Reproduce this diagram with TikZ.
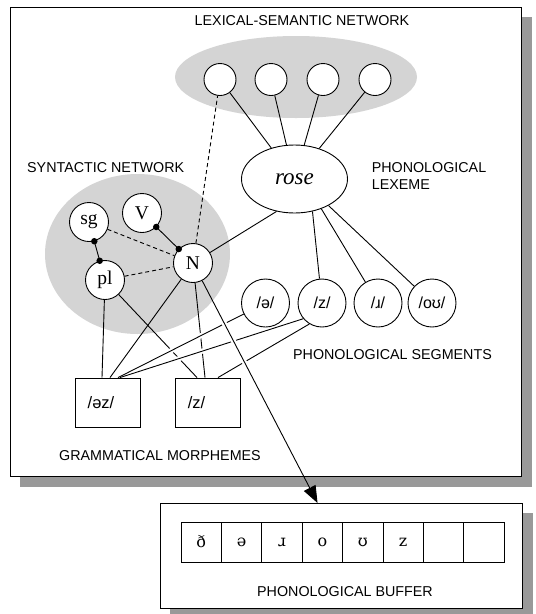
\documentclass[tikz,border=0pt]{standalone}
\usepackage{fontspec}
\setmainfont{Liberation Serif}
\setsansfont{Liberation Sans}
\newfontfamily\ipaserif{DejaVu Serif}
\usetikzlibrary{shapes.geometric,arrows.meta,calc}
\begin{document}
\begin{tikzpicture}[x=1pt,y=-1pt,
  lab/.style={font=\sffamily\fontsize{14.3}{17}\selectfont, inner sep=0pt},
  sem/.style={circle,draw,fill=white,minimum size=32pt,inner sep=0pt,line width=0.9pt},
  syn/.style={circle,draw,fill=white,minimum size=39pt,inner sep=0pt,line width=0.9pt,font=\fontsize{19.5}{21}\selectfont},
  seg/.style={circle,draw,fill=white,minimum size=48pt,inner sep=0pt,line width=0.9pt,font=\sffamily\fontsize{16}{18}\selectfont},
  morph/.style={rectangle,draw,fill=white,minimum width=65pt,minimum height=49pt,inner sep=0pt,line width=0.9pt,font=\sffamily\fontsize{16.5}{18}\selectfont},
  cell/.style={rectangle,draw,minimum width=40.4pt,minimum height=40pt,inner sep=0pt,line width=0.9pt,font=\ipaserif\fontsize{16}{18}\selectfont},
  link/.style={line width=0.9pt},
  dlink/.style={line width=0.9pt,dash pattern=on 4pt off 3pt},
  dot/.style={circle,fill=black,inner sep=0pt,minimum size=6.5pt},
  halo/.style={draw=white,line width=5pt},
  boxframe/.style={rectangle,draw,fill=white,line width=1.1pt,inner sep=0pt,anchor=north west},
  shadowfill/.style={fill=black!40},
  cloud/.style={fill=black!17}
]
\useasboundingbox (0,0) rectangle (536,614);
% frames with shadows
\fill[shadowfill] (20,17) rectangle (532,487);
\node[boxframe,minimum width=511pt,minimum height=469pt] (main) at (10,7) {};
\fill[shadowfill] (170,513) rectangle (533,614);
\node[boxframe,minimum width=362pt,minimum height=105pt] (buf) at (160,503) {};
% gray regions
\fill[cloud] (296,77) ellipse [x radius=121pt, y radius=41pt];
\fill[cloud] (137.5,254) ellipse [x radius=92.5pt, y radius=80pt];
% labels
\node[lab] (lsn) at (302,20.5) {LEXICAL-SEMANTIC NETWORK};
\node[lab,anchor=west] (snet) at (27,168) {SYNTACTIC NETWORK};
\node[lab,anchor=west,align=left] (phlex) at (371.6,176.5) {PHONOLOGICAL\\LEXEME};
\node[lab] (phseg) at (392.5,355) {PHONOLOGICAL SEGMENTS};
\node[lab] (gm) at (160,456) {GRAMMATICAL MORPHEMES};
\node[lab] (pb) at (345,592) {PHONOLOGICAL BUFFER};
% semantic nodes
\node[sem] (s1) at (220,79.5) {};
\node[sem] (s2) at (271,79.5) {};
\node[sem] (s3) at (323,79.5) {};
\node[sem] (s4) at (375,79.5) {};
\node[draw,ellipse,fill=white,minimum width=106pt,minimum height=68pt,inner sep=0pt,line width=0.9pt,font=\itshape\fontsize{23}{25}\selectfont] (rose) at (294.5,179) {rose};
% syntactic nodes
\node[syn] (sg) at (89,222) {sg};
\node[syn] (V) at (142,213) {V};
\node[syn] (N) at (193,263) {N};
\node[syn] (pl) at (105,280) {pl};
% segments
\node[seg] (sa) at (265.5,303) {/ə/};
\node[seg] (sz) at (322,303) {/z/};
\node[seg] (sr) at (378,303) {/ɹ/};
\node[seg] (so) at (432,303) {/oʊ/};
% morphemes
\node[morph] (m1) at (107.5,402.5) {/əz/\hspace*{13pt}};
\node[morph] (m2) at (207.5,402.5) {/z/\hspace*{22pt}};
% buffer cells
\node[cell] (c1) at (201.2,542) {ð};
\node[cell] (c2) at (241.6,542) {ə};
\node[cell] (c3) at (282.0,542) {ɹ};
\node[cell] (c4) at (322.4,542) {o};
\node[cell] (c5) at (362.8,542) {ʊ};
\node[cell] (c6) at (403.2,542) {z};
\node[cell] (c7) at (443.6,542) {};
\node[cell] (c8) at (484.0,542) {};
% connection points
\coordinate (m1a) at ([xshift=-5.5pt]m1.north);
\coordinate (m1b) at ([xshift=2.5pt]m1.north);
\coordinate (m1c) at ([xshift=10.5pt]m1.north);
\coordinate (m1d) at ([xshift=12.5pt]m1.north);
\coordinate (m2a) at ([xshift=-10.5pt]m2.north);
\coordinate (m2b) at ([xshift=-2.5pt]m2.north);
\coordinate (m2c) at ([xshift=10.5pt]m2.north);
\coordinate (tip) at ([xshift=-24pt]buf.north);
% semantic links
\draw[link] (s1) -- (rose);
\draw[link] (s2) -- (rose);
\draw[link] (s3) -- (rose);
\draw[link] (s4) -- (rose);
\draw[link] (rose.241) -- (N);
\draw[link] (rose.299) -- (sz);
\draw[link] (rose.312) -- (sr);
\draw[link] (rose.322) -- (so);
% syntactic links
\draw[dlink] (N) -- (s1);
\draw[dlink] (sg) -- (N);
\draw[dlink] (pl) -- (N);
\draw[link] (sg) -- (pl) node[dot,pos=0]{} node[dot,pos=1]{};
\draw[link] (V) -- (N) node[dot,pos=0]{} node[dot,pos=1]{};
% lower links to morphemes
\draw[link] (pl) -- (m2a);
\draw[link] (N) -- (m2b);
\draw[link] (pl) -- (m1a);
\draw[link] (N) -- (m1b);
% segment links (over)
\path[halo] ($(sa)!0.35!(m1c)$) -- ($(sa)!0.75!(m1c)$);
\path[halo] ($(sz.220)!0.45!(m1d)$) -- ($(sz.220)!0.8!(m1d)$);
\draw[link] (sa) -- (m1c);
\draw[link] (sz.220) -- (m1d);
\draw[link] (sz.239) -- (m2c);
% output arrow
\path[halo] ($(N)!0.17!(tip)$) -- ($(N)!0.48!(tip)$);
\draw[link,-{Triangle[length=17pt,width=13pt]}] (N) -- (tip);
\end{tikzpicture}
\end{document}
